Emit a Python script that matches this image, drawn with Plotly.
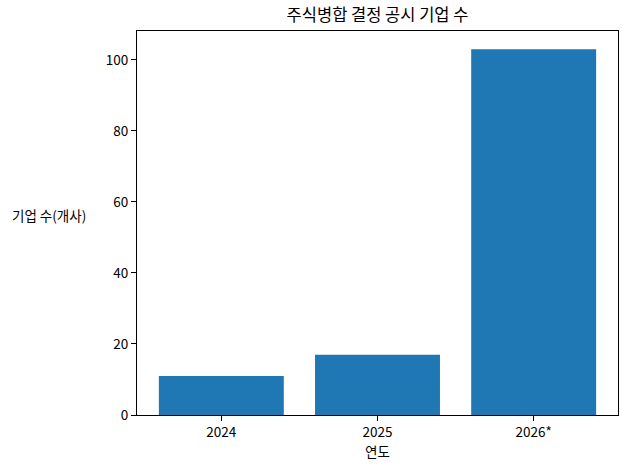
import plotly.graph_objects as go

years = ["2024", "2025", "2026*"]
counts = [11, 17, 103]

title = "주식병합 결정 공시 기업 수"
x_title = "연도"
y_title = "기업 수(개사)"

font_family = "Noto Sans CJK KR, Noto Sans, sans-serif"

fig = go.Figure(go.Bar(
    x=list(range(len(years))), y=counts, width=0.8,
    marker=dict(color="#1f77b4", line=dict(width=0)),
))

W, H = 630, 470
L, R, T, B = 137, 12, 31, 55
pw = W - L - R
ph = H - T - B

fig.update_layout(
    width=W, height=H,
    margin=dict(l=L, r=R, t=T, b=B),
    plot_bgcolor="white", paper_bgcolor="white",
    font=dict(family=font_family, size=13.5, color="black"),
    showlegend=False,
    title=dict(text=title, x=(L + pw / 2) / W, xanchor="center",
               y=1 - 15 / H, yanchor="middle", font=dict(size=16.5)),
    xaxis=dict(
        tickmode="array", tickvals=list(range(len(years))), ticktext=years,
        range=[-0.54, 2.54], showgrid=False, zeroline=False,
        showline=True, linecolor="black", linewidth=1, mirror=True,
        ticks="outside", ticklen=5, tickcolor="black",
        title=dict(text=x_title, standoff=3, font=dict(size=13.5)),
    ),
    yaxis=dict(
        range=[0, 108.15], tickvals=[0, 20, 40, 60, 80, 100],
        showgrid=False, zeroline=False,
        showline=True, linecolor="black", linewidth=1, mirror=True,
        ticks="outside", ticklen=5, tickcolor="black",
    ),
    annotations=[dict(
        text=y_title, xref="paper", yref="paper",
        x=(48.5 - L) / pw, y=(H - B - 215) / ph,
        xanchor="center", yanchor="middle", showarrow=False,
        font=dict(size=13.5),
    )],
)

fig.write_html("out.html", config={"displayModeBar": False},
               post_script="document.body.style.margin='0';")
